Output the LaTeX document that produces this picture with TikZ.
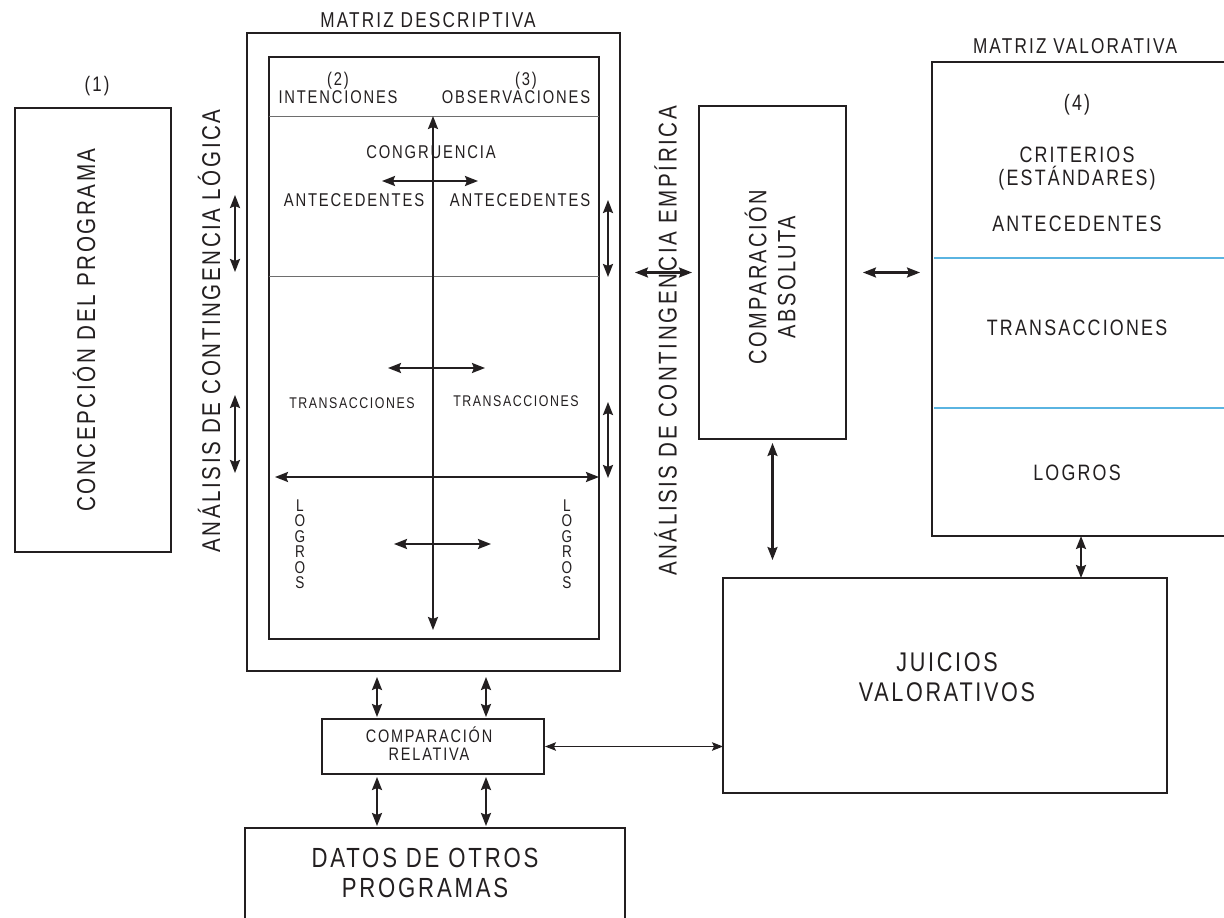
\documentclass[tikz,border=0pt]{standalone}
\usepackage{fontspec}
\setmainfont{Liberation Sans}[FakeStretch=0.8,LetterSpace=10]
\usetikzlibrary{arrows.meta}
\definecolor{ink}{RGB}{35,31,32}
\definecolor{rulegray}{RGB}{110,110,110}
\definecolor{sky}{RGB}{90,180,225}
\newcommand\fz[2]{\fontsize{#1pt}{#2pt}\selectfont}
\begin{document}
\begin{tikzpicture}[x=1pt,y=-1pt,
  box/.style={draw=ink,line width=2.4pt,inner sep=0pt,outer sep=0pt},
  arr/.style={draw=ink,line width=2.2pt,{Stealth[length=13pt,width=10pt,inset=2pt]}-{Stealth[length=13pt,width=10pt,inset=2pt]}},
  thinarr/.style={draw=ink,line width=1pt,{Stealth[length=11pt,width=8.5pt,inset=2pt]}-{Stealth[length=11pt,width=8.5pt,inset=2pt]}},
  txt/.style={inner sep=0pt,outer sep=0pt,text=ink,font=\fz{#1}{#1},text height={0.716*#1pt},text depth=0pt},
  mtxt/.style args={#1/#2/#3}{inner sep=0pt,outer sep=0pt,text=ink,align=center,font=\fz{#1}{#2},text height={0.716*#1pt+(#3-1)*#2pt},text depth=0pt},
  divider/.style={draw=rulegray,line width=1pt},
  skyline/.style={draw=sky,line width=1.2pt},
]
\fill[white] (0,0) rectangle (1224,918);
\useasboundingbox (0,0) rectangle (1224,918);

% ---------- titles ----------
\node[txt=21.5] (tDesc) at (428,19.5) {MATRIZ DESCRIPTIVA};
\node[txt=21.5] (tVal) at (1075,46) {MATRIZ VALORATIVA};
\node[txt=21] (n1) at (97,84) {(1)};

% ---------- concepcion ----------
\node[box,minimum width=156pt,minimum height=444pt] (concep) at (93,330) {};
\node[txt=25.8,rotate=90] (concepT) at (86,330) {CONCEPCIÓN DEL PROGRAMA};
\node[txt=25.7,rotate=90] (logica) at (211,331) {ANÁLISIS DE CONTINGENCIA LÓGICA};

% ---------- matriz descriptiva ----------
\node[box,minimum width=373pt,minimum height=638pt] (descOut) at (433.5,352) {};
\node[box,minimum width=330pt,minimum height=582pt] (descIn) at (434,348) {};
\draw[divider] (descIn.west |- 0,116) -- (descIn.east |- 0,116);
\draw[divider] (descIn.west |- 0,276) -- (descIn.east |- 0,276);

\node[txt=18.4] (n2) at (338,79) {(2)};
\node[txt=18.4] (inten) at (338,97) {INTENCIONES};
\node[txt=18.4] (n3) at (526,79) {(3)};
\node[txt=18.4] (obs) at (516,97) {OBSERVACIONES};
\node[txt=18.5] (congr) at (431,152) {CONGRUENCIA};
\node[txt=18.5] (antL) at (354,200) {ANTECEDENTES};
\node[txt=18.5] (antR) at (520,200) {ANTECEDENTES};
\node[txt=15.5] (traL) at (352,403) {TRANSACCIONES};
\node[txt=15.5] (traR) at (516,401) {TRANSACCIONES};
\node[mtxt=17/15.4/6] (logL) at (300,544) {L\\O\\G\\R\\O\\S};
\node[mtxt=17/15.4/6] (logR) at (567,544) {L\\O\\G\\R\\O\\S};

\coordinate (vTop) at (433,116);  \coordinate (vBot) at (433,630);
\coordinate (h1a) at (382,181);   \coordinate (h1b) at (478,181);
\coordinate (h2a) at (388,368);   \coordinate (h2b) at (485,368);
\coordinate (h3a) at (275,477);   \coordinate (h3b) at (599,477);
\coordinate (h4a) at (394,544);   \coordinate (h4b) at (491,544);
\coordinate (r1a) at (608,200);   \coordinate (r1b) at (608,277);
\coordinate (r2a) at (608,402);   \coordinate (r2b) at (608,478);
\coordinate (l1a) at (235,195);   \coordinate (l1b) at (235,272);
\coordinate (l2a) at (235,395);   \coordinate (l2b) at (235,473);
\draw[arr] (vTop) -- (vBot);
\draw[arr] (h1a) -- (h1b);
\draw[arr] (h2a) -- (h2b);
\draw[arr] (h3a) -- (h3b);
\draw[arr] (h4a) -- (h4b);
\draw[arr] (r1a) -- (r1b);
\draw[arr] (r2a) -- (r2b);
\draw[arr] (l1a) -- (l1b);
\draw[arr] (l2a) -- (l2b);

% ---------- comparacion absoluta ----------
\node[txt=25.7,rotate=90] (empir) at (667.5,341) {ANÁLISIS DE CONTINGENCIA EMPÍRICA};
\node[box,minimum width=147pt,minimum height=333pt] (cabs) at (772.5,272.5) {};
\node[mtxt=25/29/2,rotate=90] (cabsT) at (772,277) {COMPARACIÓN\\ABSOLUTA};

% ---------- matriz valorativa ----------
\node[box,minimum width=308pt,minimum height=474pt] (valor) at (1086,299) {};
\draw[skyline] ([xshift=2pt]valor.west |- 0,258) -- (valor.east |- 0,258);
\draw[skyline] ([xshift=2pt]valor.west |- 0,408) -- (valor.east |- 0,408);
\node[txt=22.3] (n4) at (1077,103) {(4)};
\node[mtxt=22.3/22.5/2] (crit) at (1077,166) {CRITERIOS\\(ESTÁNDARES)};
\node[txt=22.3] (antV) at (1077,224) {ANTECEDENTES};
\node[txt=22.3] (traV) at (1077,328) {TRANSACCIONES};
\node[txt=22.3] (logV) at (1077,473) {LOGROS};

% ---------- juicios ----------
\node[box,minimum width=444pt,minimum height=215pt] (juicios) at (945,685.5) {};
\node[mtxt=27/30/2] (juiT) at (947,677) {JUICIOS\\VALORATIVOS};

% ---------- comparacion relativa / datos ----------
\node[box,minimum width=222pt,minimum height=55pt] (crel) at (433,746.5) {};
\node[mtxt=18.1/17.5/2] (crelT) at (429,745) {COMPARACIÓN\\RELATIVA};
\node[box,minimum width=380pt,minimum height=107pt] (datos) at (435,881.5) {};
\node[mtxt=27.7/30/2] (datosT) at (425,872.5) {DATOS DE OTROS\\PROGRAMAS};

% ---------- connectors ----------
\draw[arr,shorten <=15pt,shorten >=7pt] (descOut.east |- cabs.west) -- (cabs.west);
\draw[arr,shorten <=17pt,shorten >=12pt] (cabs.east) -- (cabs.east -| valor.west);
\draw[arr,shorten <=4pt,shorten >=18pt] (cabs.south) -- (cabs.south |- juicios.north);
\draw[arr] ([xshift=-5pt]valor.south) -- ([xshift=-5pt]valor.south |- juicios.north);
\draw[thinarr,shorten <=1pt] (crel.east) -- (crel.east -| juicios.west);
\draw[arr,shorten <=6pt,shorten >=2pt] ([xshift=-56pt]crel.north |- descOut.south) -- ([xshift=-56pt]crel.north);
\draw[arr,shorten <=6pt,shorten >=2pt] ([xshift=53pt]crel.north |- descOut.south) -- ([xshift=53pt]crel.north);
\draw[arr,shorten <=3pt,shorten >=2pt] ([xshift=-56pt]crel.south) -- ([xshift=-56pt]crel.south |- datos.north);
\draw[arr,shorten <=3pt,shorten >=2pt] ([xshift=53pt]crel.south) -- ([xshift=53pt]crel.south |- datos.north);
\end{tikzpicture}
\end{document}
